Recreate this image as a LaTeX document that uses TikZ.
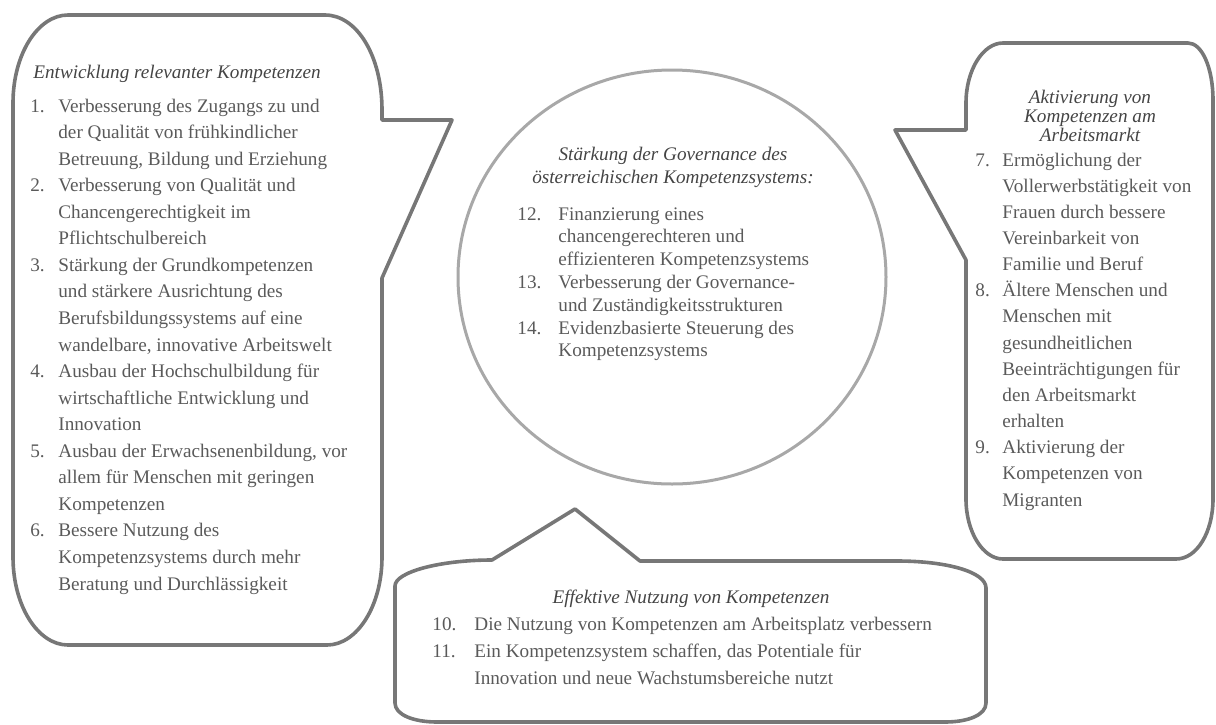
\documentclass[tikz,border=0pt]{standalone}
\usepackage{fontspec}
\setmainfont{Liberation Serif}
\definecolor{bubblegray}{HTML}{777777}
\definecolor{ringgray}{HTML}{A8A8A8}
\definecolor{textgray}{HTML}{5A5A5A}
\definecolor{titlegray}{HTML}{444444}

\begin{document}
\begin{tikzpicture}[x=0.5pt,y=-0.5pt,
	bubble/.style={draw=bubblegray,line width=1.8pt,line join=round},
	ring/.style={draw=ringgray,line width=1.5pt},
	listtext/.style={anchor=base west,inner sep=0pt,text=textgray},
	headtext/.style={anchor=base,inner sep=0pt,text=titlegray,font=\itshape}]
		
		\useasboundingbox (0,0) rectangle (1216,724);
		
		%left bubble
		\draw[bubble] (13,103) .. controls (13,54) and (38,15) .. (68,15)
			-- (325,15) .. controls (357,15) and (382,56) .. (382,110)
			-- (382,120) -- (452,120) -- (382,278)
			-- (382,557) .. controls (382,606) and (357,645) .. (327,645)
			-- (68,645) .. controls (38,645) and (13,606) .. (13,557) -- cycle;
		%right bubble
		\draw[bubble] (966,103) .. controls (966,70) and (983,43) .. (1003,43)
			-- (1188,43) .. controls (1202,43) and (1213,68) .. (1213,100)
			-- (1213,499) .. controls (1213,532) and (1197,559) .. (1176,559)
			-- (1003,559) .. controls (983,559) and (966,532) .. (966,499)
			-- (966,260) -- (895,130) -- (966,130) -- cycle;
		%bottom bubble
		\draw[bubble] (395,586) .. controls (395,572) and (440,560) .. (492,560)
			-- (575,509) -- (640,561) -- (897,561) .. controls (947,561) and (986,572) .. (986,588)
			-- (986,703) .. controls (986,715) and (968,722) .. (945,722)
			-- (437,722) .. controls (414,722) and (395,715) .. (395,703) -- cycle;
		%middle ring
		\draw[ring] (672,277) ellipse [x radius=214, y radius=207];
		
		%left texts
		\node[headtext,anchor=base west](kompHead) at (33,78) {\fontsize{9.6}{13.28}\selectfont Entwicklung relevanter Kompetenzen};
		\node[listtext](kompList) at (30,112) {\fontsize{9.6}{13.28}\selectfont
			\begin{tabular}[t]{@{}p{14pt}@{}l@{}}
			1. & Verbesserung des Zugangs zu und\\
			 & der Qualität von frühkindlicher\\
			 & Betreuung, Bildung und Erziehung\\
			2. & Verbesserung von Qualität und\\
			 & Chancengerechtigkeit im\\
			 & Pflichtschulbereich\\
			3. & Stärkung der Grundkompetenzen\\
			 & und stärkere Ausrichtung des\\
			 & Berufsbildungssystems auf eine\\
			 & wandelbare, innovative Arbeitswelt\\
			4. & Ausbau der Hochschulbildung für\\
			 & wirtschaftliche Entwicklung und\\
			 & Innovation\\
			5. & Ausbau der Erwachsenenbildung, vor\\
			 & allem für Menschen mit geringen\\
			 & Kompetenzen\\
			6. & Bessere Nutzung des\\
			 & Kompetenzsystems durch mehr\\
			 & Beratung und Durchlässigkeit
			\end{tabular}};
		
		%ring texts
		\node[headtext](govHead) at (673,160) {\fontsize{9.6}{11.5}\selectfont
			\begin{tabular}[t]{@{}c@{}}
			Stärkung der Governance des\\
			österreichischen Kompetenzsystems:
			\end{tabular}};
		\node[listtext](govList) at (517,220) {\fontsize{9.6}{11.4}\selectfont
			\begin{tabular}[t]{@{}p{20.5pt}@{}l@{}}
			12. & Finanzierung eines\\
			 & chancengerechteren und\\
			 & effizienteren Kompetenzsystems\\
			13. & Verbesserung der Governance-\\
			 & und Zuständigkeitsstrukturen\\
			14. & Evidenzbasierte Steuerung des\\
			 & Kompetenzsystems
			\end{tabular}};
		
		%right texts
		\node[headtext](aktHead) at (1090,103) {\fontsize{9.6}{9.5}\selectfont
			\begin{tabular}[t]{@{}c@{}}
			Aktivierung von\\
			Kompetenzen am\\
			Arbeitsmarkt
			\end{tabular}};
		\node[listtext](aktList) at (975,166) {\fontsize{9.6}{13.08}\selectfont
			\begin{tabular}[t]{@{}p{13.5pt}@{}l@{}}
			7. & Ermöglichung der\\
			 & Vollerwerbstätigkeit von\\
			 & Frauen durch bessere\\
			 & Vereinbarkeit von\\
			 & Familie und Beruf\\
			8. & Ältere Menschen und\\
			 & Menschen mit\\
			 & gesundheitlichen\\
			 & Beeinträchtigungen für\\
			 & den Arbeitsmarkt\\
			 & erhalten\\
			9. & Aktivierung der\\
			 & Kompetenzen von\\
			 & Migranten
			\end{tabular}};
		
		%bottom texts
		\node[headtext](nutzHead) at (691,603) {\fontsize{9.6}{13.5}\selectfont Effektive Nutzung von Kompetenzen};
		\node[listtext](nutzList) at (432,630) {\fontsize{9.6}{13.5}\selectfont
			\begin{tabular}[t]{@{}p{21pt}@{}l@{}}
			10. & Die Nutzung von Kompetenzen am Arbeitsplatz verbessern\\
			11. & Ein Kompetenzsystem schaffen, das Potentiale für\\
			 & Innovation und neue Wachstumsbereiche nutzt
			\end{tabular}};
		
		\end{tikzpicture}
\end{document}
